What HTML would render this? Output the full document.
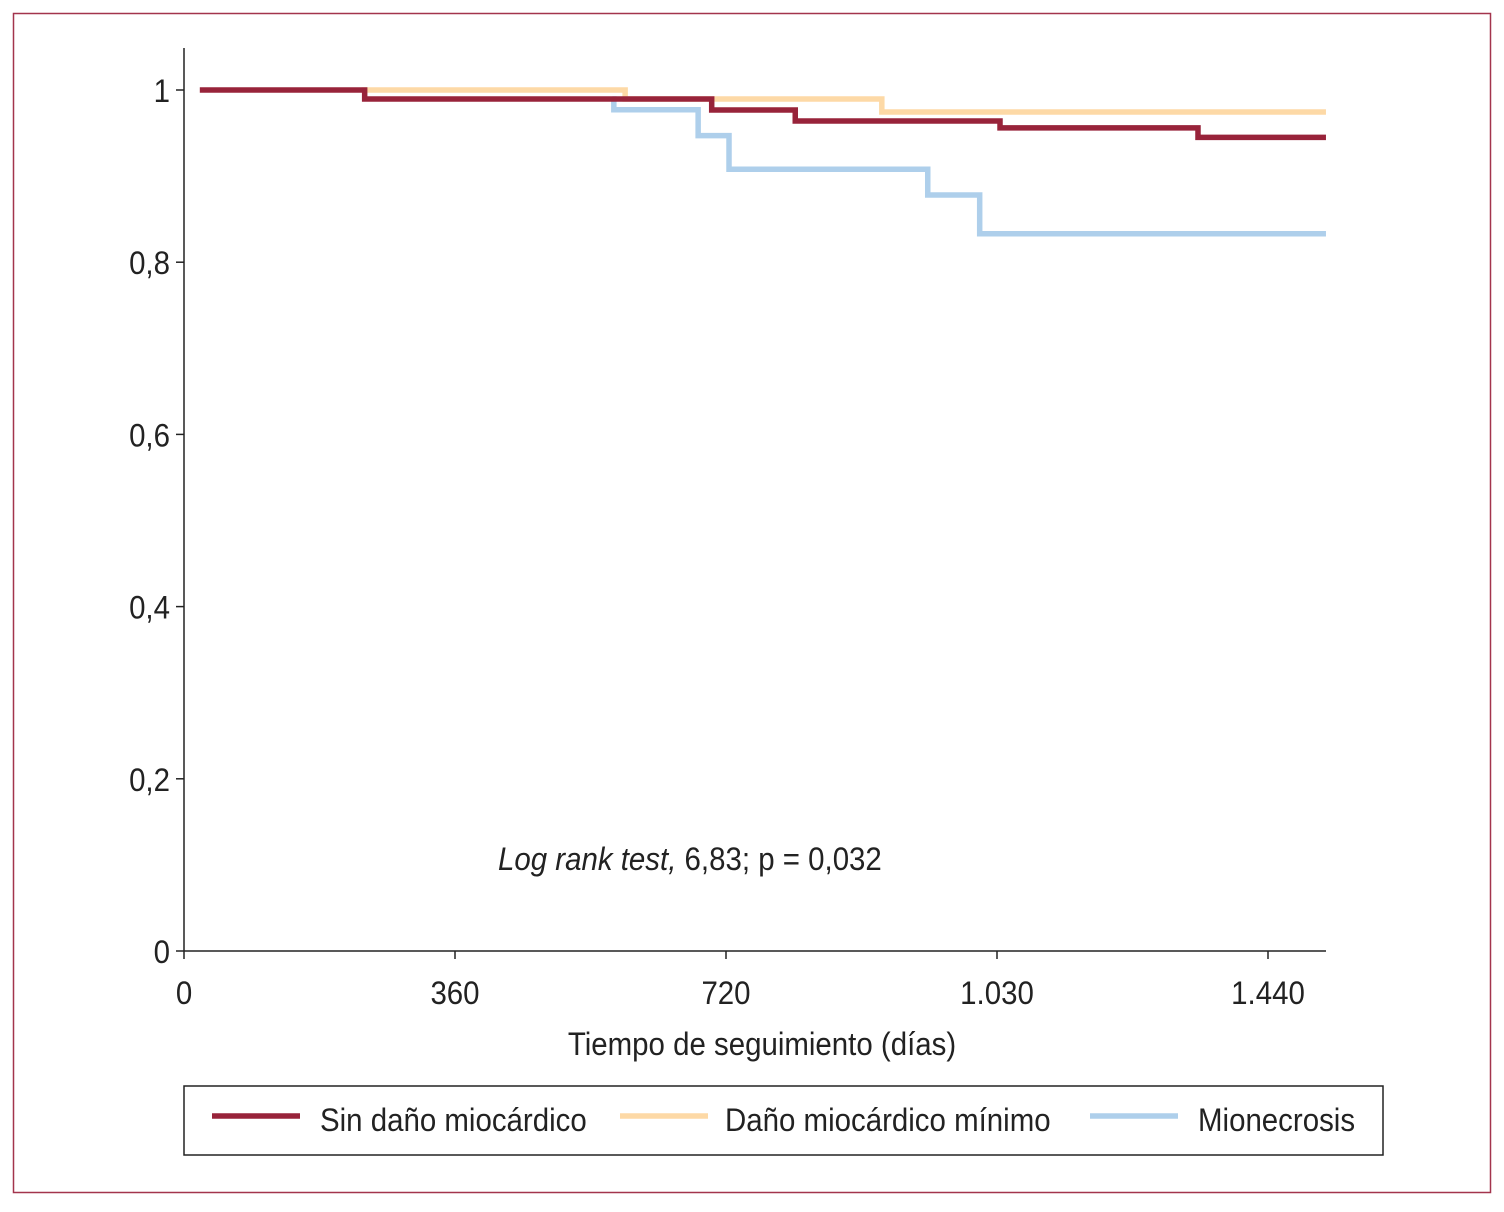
<!DOCTYPE html>
<html><head><meta charset="utf-8"><style>
body{margin:0;background:#fff;}
svg{display:block;font-family:"Liberation Sans",sans-serif;}
</style></head><body>
<svg id="c" width="1504" height="1212"></svg>
<script>
const xTickValues=[0,360,720,1080,1440];
const xTickLabels=["0","360","720","1.030","1.440"];
const yTickValues=[0,0.2,0.4,0.6,0.8,1];
const yTickLabels=["0","0,2","0,4","0,6","0,8","1"];
const redTimes=[21,240,701,812,1084,1347,1517];
const redSurv=[1,0.9895,0.9768,0.964,0.956,0.945,0.945];
const orangeTimes=[236,586,927,1517];
const orangeSurv=[1,0.9895,0.9745,0.9745];
const blueTimes=[569,571,683,724,988,1057,1517];
const blueSurv=[0.9895,0.977,0.947,0.908,0.878,0.833,0.833];
const legendLabels=["Sin daño miocárdico","Daño miocárdico mínimo","Mionecrosis"];

const NS="http://www.w3.org/2000/svg";
const svg=document.getElementById('c');
const X=d=>184+d*(1268-184)/1440;
const Y=v=>951-v*(951-90);
function mk(t,a,p){const e=document.createElementNS(NS,t);for(const k in a)e.setAttribute(k,a[k]);(p||svg).appendChild(e);return e;}
function narrow(t){const w=t.getComputedTextLength();t.setAttribute('textLength',w*0.92);t.setAttribute('lengthAdjust','spacingAndGlyphs');}

const frame=mk('rect',{x:13.5,y:13.5,width:1477,height:1179,fill:'none',stroke:'#a3344d','stroke-width':1.5});



const ax=mk('g',{stroke:'#222','stroke-width':1.5,fill:'none'});


mk('line',{x1:184,y1:48,x2:184,y2:951},ax);
mk('line',{x1:184,y1:951,x2:1326,y2:951},ax);

yTickValues.forEach((v,i)=>{
  mk('line',{x1:176,y1:Y(v),x2:184,y2:Y(v)},ax);
  const t=mk('text',{x:170,y:Y(v)+12,'text-anchor':'end','font-size':32,fill:'#222'});
  t.textContent=yTickLabels[i];
  
  
  narrow(t);
});
xTickValues.forEach((v,i)=>{
  mk('line',{x1:X(v),y1:951,x2:X(v),y2:959},ax);
  const t=mk('text',{x:X(v),y:1004,'text-anchor':'middle','font-size':32,fill:'#222'});
  t.textContent=xTickLabels[i];
  
  
  narrow(t);
});
const xt=mk('text',{x:762,y:1055,'text-anchor':'middle','font-size':32,fill:'#222'});
xt.textContent='Tiempo de seguimiento (días)';


narrow(xt);

const note=mk('text',{x:498,y:870,'font-size':32,fill:'#222'});
note.innerHTML='<tspan font-style="italic">Log rank test,</tspan> 6,83; p = 0,032';


narrow(note);

function step(times,surv,color,name){
  let d='M'+X(times[0])+' '+Y(surv[0]);
  for(let i=1;i<times.length;i++){d+=' H'+X(times[i])+' V'+Y(surv[i]);}
  const p=mk('path',{d:d,fill:'none',stroke:color,'stroke-width':5.5});
  
  
}
step(blueTimes,blueSurv,'#aecfeb','series-mionecrosis');
step(orangeTimes,orangeSurv,'#fdd9a6','series-dano-minimo');
step(redTimes,redSurv,'#98233a','series-sin-dano');

const lg=mk('g',{});


mk('rect',{x:184,y:1086,width:1199,height:69,fill:'#fff',stroke:'#222','stroke-width':1.5},lg);
const cols=['#98233a','#fdd9a6','#aecfeb'];
const lx=[212,620,1090],tx=[320,725,1198];
legendLabels.forEach((l,i)=>{
  const ln=mk('line',{x1:lx[i],y1:1116,x2:lx[i]+88,y2:1116,stroke:cols[i],'stroke-width':5.5},lg);
  
  
  const t=mk('text',{x:tx[i],y:1131,'font-size':32,fill:'#222'},lg);
  t.textContent=l;
  
  
  narrow(t);
});
</script>
</body></html>
